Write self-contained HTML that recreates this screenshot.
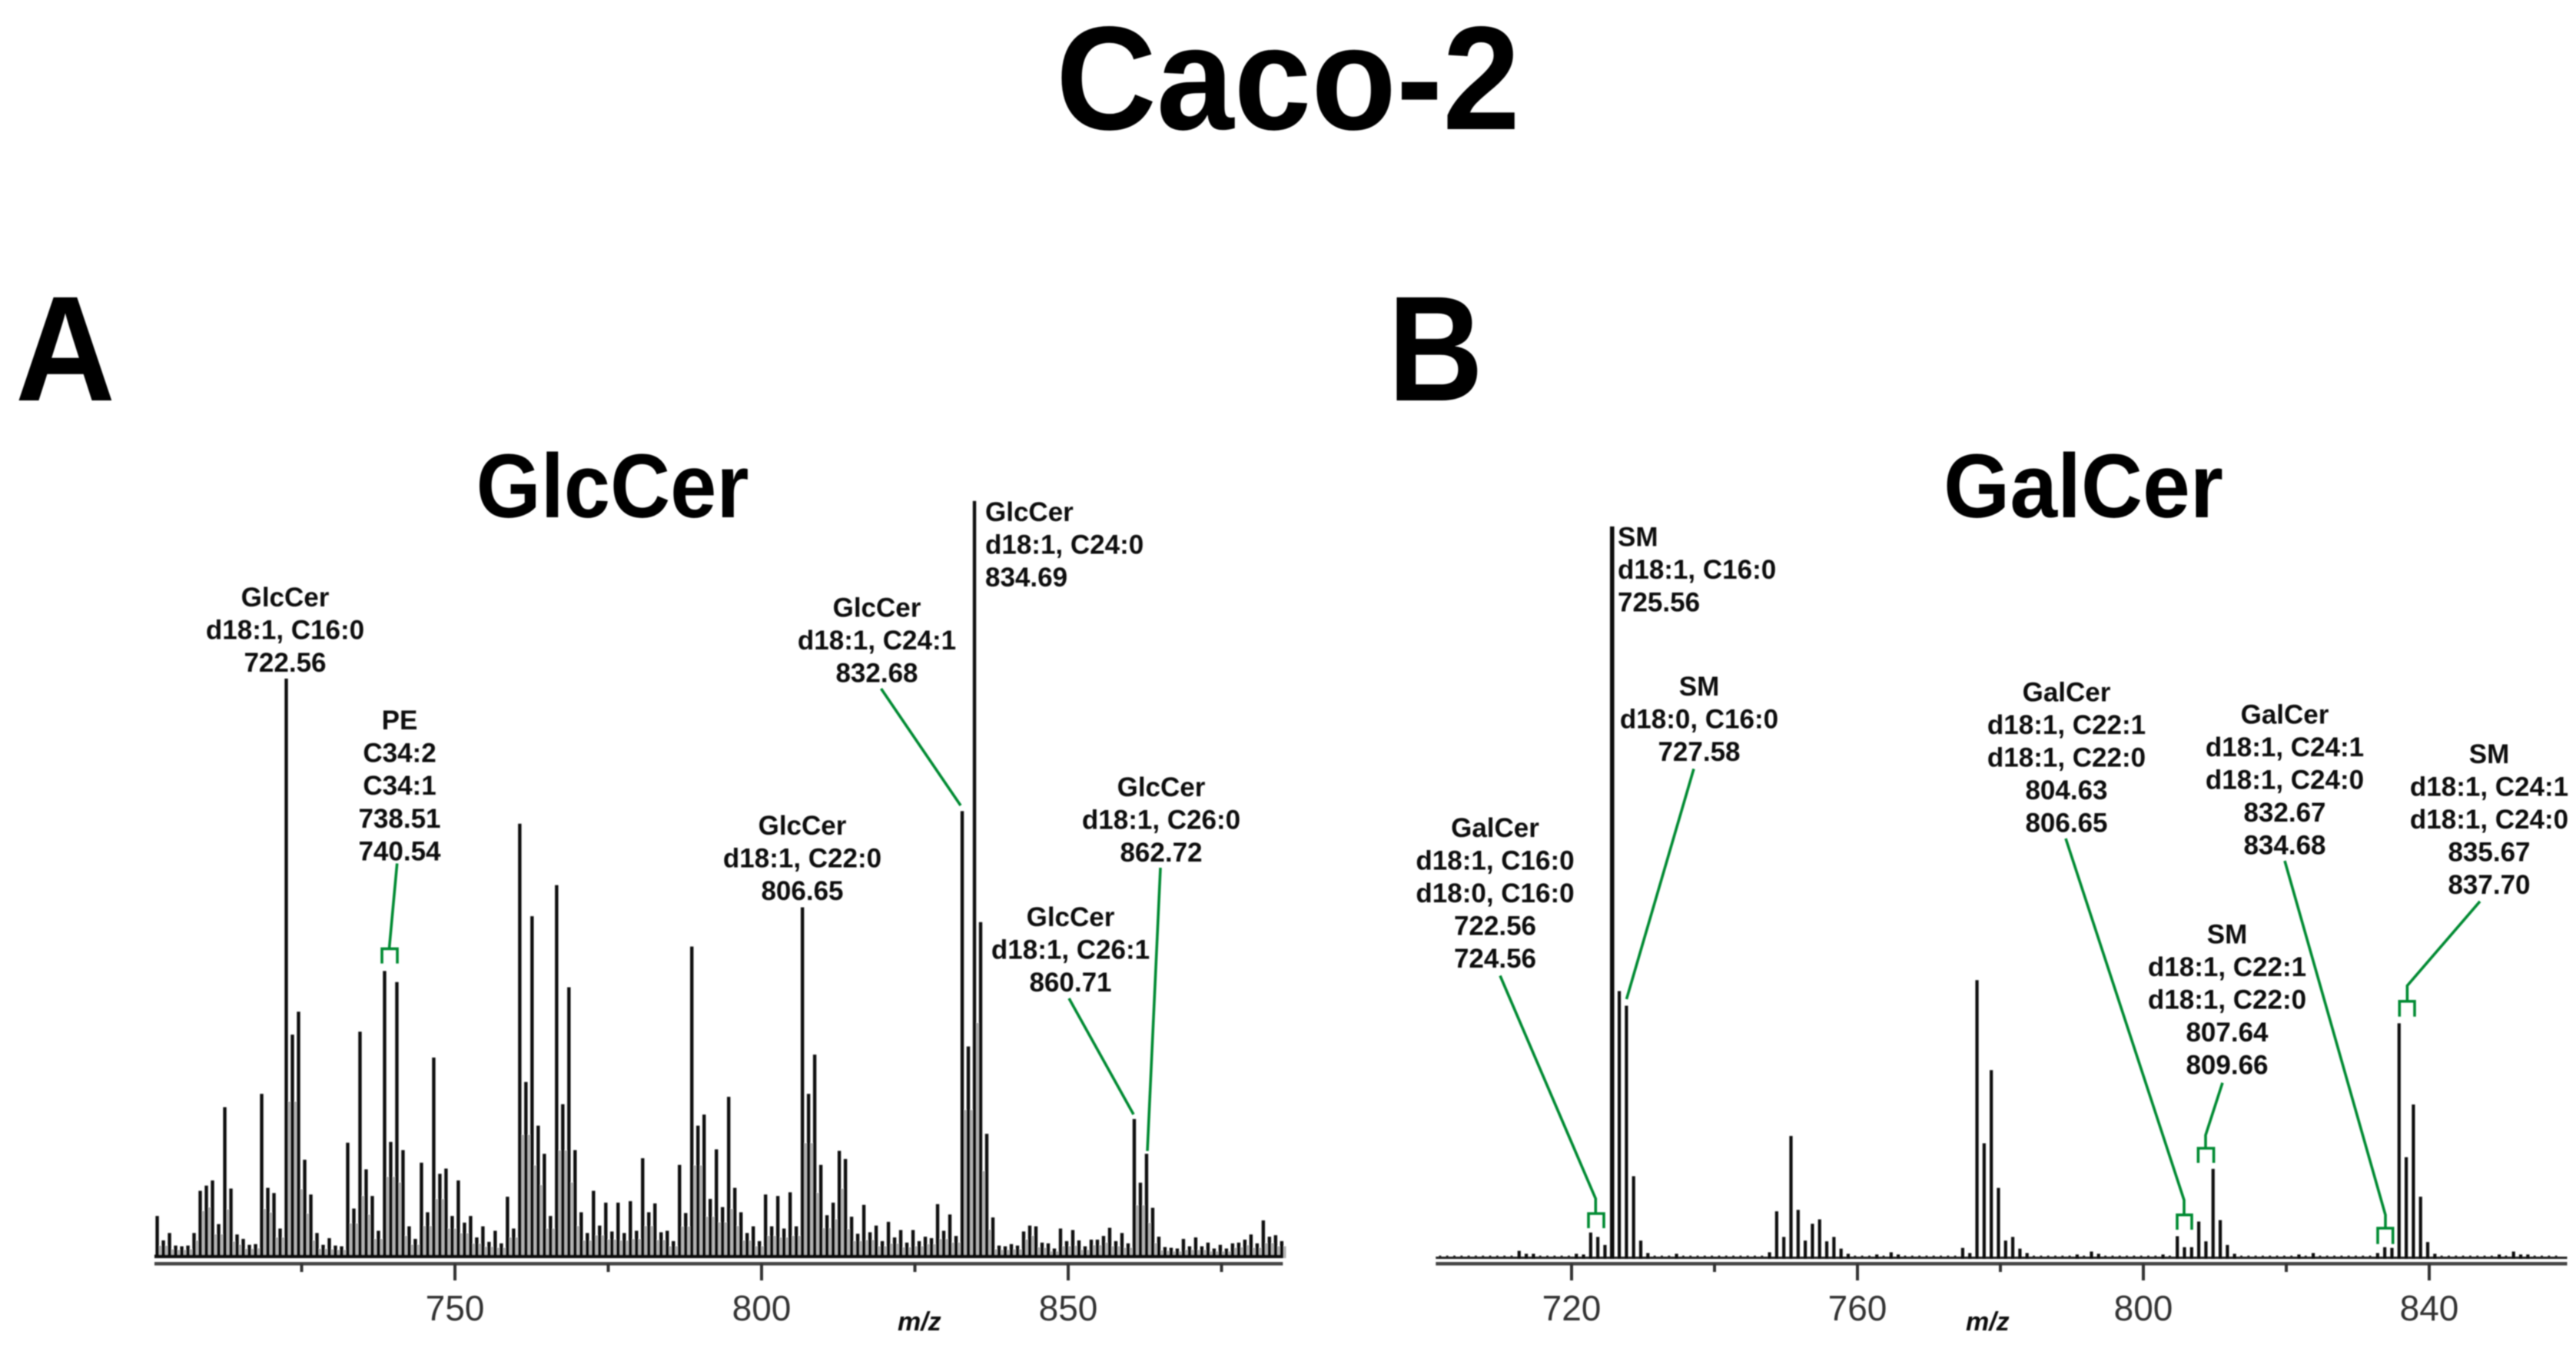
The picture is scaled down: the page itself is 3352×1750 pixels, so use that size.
<!DOCTYPE html>
<html><head><meta charset="utf-8"><title>Caco-2</title>
<style>
html,body{margin:0;padding:0;background:#fff}
svg{display:block}
text{font-family:"Liberation Sans",sans-serif}
.a{font-size:35px;font-weight:bold;fill:#111;text-anchor:middle}
.s{text-anchor:start}
.g{fill:none;stroke:#008a32;stroke-width:3.6}
.t{font-size:46px;fill:#333;text-anchor:middle}
.h{font-weight:bold;fill:#000}
</style></head>
<body>
<svg id="fig" xmlns="http://www.w3.org/2000/svg" width="3352" height="1750" viewBox="0 0 3352 1750">
<defs><filter id="soft" x="0" y="0" width="100%" height="100%"><feGaussianBlur stdDeviation="0.7"/></filter></defs>
<rect width="3352" height="1750" fill="#fff"/>
<g filter="url(#soft)">
<text class="h" x="1676" y="168" font-size="192" text-anchor="middle" textLength="604" lengthAdjust="spacingAndGlyphs">Caco-2</text>
<text class="h" x="20" y="521" font-size="195" textLength="130" lengthAdjust="spacingAndGlyphs">A</text>
<text class="h" x="1806" y="521" font-size="195" textLength="124" lengthAdjust="spacingAndGlyphs">B</text>
<text class="h" x="797" y="673" font-size="118" text-anchor="middle" textLength="355" lengthAdjust="spacingAndGlyphs">GlcCer</text>
<text class="h" x="2711" y="673" font-size="118" text-anchor="middle" textLength="364" lengthAdjust="spacingAndGlyphs">GalCer</text>

<g id="panelA"></g>
<g id="panelB"></g>

<g>
<text class="a"><tspan x="371" y="789">GlcCer</tspan><tspan x="371" y="831.6">d18:1, C16:0</tspan><tspan x="371" y="874.2">722.56</tspan></text>
<text class="a"><tspan x="520" y="949">PE</tspan><tspan x="520" y="991.6">C34:2</tspan><tspan x="520" y="1034.2">C34:1</tspan><tspan x="520" y="1076.8">738.51</tspan><tspan x="520" y="1119.4">740.54</tspan></text>
<text class="a"><tspan x="1141" y="802.5">GlcCer</tspan><tspan x="1141" y="845.1">d18:1, C24:1</tspan><tspan x="1141" y="887.7">832.68</tspan></text>
<text class="a s"><tspan x="1282" y="678">GlcCer</tspan><tspan x="1282" y="720.6">d18:1, C24:0</tspan><tspan x="1282" y="763.2">834.69</tspan></text>
<text class="a"><tspan x="1044" y="1086">GlcCer</tspan><tspan x="1044" y="1128.6">d18:1, C22:0</tspan><tspan x="1044" y="1171.2">806.65</tspan></text>
<text class="a"><tspan x="1511" y="1036">GlcCer</tspan><tspan x="1511" y="1078.6">d18:1, C26:0</tspan><tspan x="1511" y="1121.2">862.72</tspan></text>
<text class="a"><tspan x="1393" y="1205">GlcCer</tspan><tspan x="1393" y="1247.6">d18:1, C26:1</tspan><tspan x="1393" y="1290.2">860.71</tspan></text>
<path class="g" d="M516.7 1123.4L506.5 1234M497 1253.6V1234.4H517V1253.6"/>
<path class="g" d="M1146.5 896L1250 1048"/>
<path class="g" d="M1391 1299L1475 1450"/>
<path class="g" d="M1510 1129L1493 1497.6"/>
</g>

<g>
<text class="a s"><tspan x="2105" y="710.5">SM</tspan><tspan x="2105" y="753">d18:1, C16:0</tspan><tspan x="2105" y="795.5">725.56</tspan></text>
<text class="a"><tspan x="2211" y="905">SM</tspan><tspan x="2211" y="947.5">d18:0, C16:0</tspan><tspan x="2211" y="990">727.58</tspan></text>
<text class="a"><tspan x="1945.5" y="1089">GalCer</tspan><tspan x="1945.5" y="1131.5">d18:1, C16:0</tspan><tspan x="1945.5" y="1174">d18:0, C16:0</tspan><tspan x="1945.5" y="1216.5">722.56</tspan><tspan x="1945.5" y="1259">724.56</tspan></text>
<text class="a"><tspan x="2689" y="912.5">GalCer</tspan><tspan x="2689" y="955">d18:1, C22:1</tspan><tspan x="2689" y="997.5">d18:1, C22:0</tspan><tspan x="2689" y="1040">804.63</tspan><tspan x="2689" y="1082.5">806.65</tspan></text>
<text class="a"><tspan x="2973" y="941.5">GalCer</tspan><tspan x="2973" y="984">d18:1, C24:1</tspan><tspan x="2973" y="1026.5">d18:1, C24:0</tspan><tspan x="2973" y="1069">832.67</tspan><tspan x="2973" y="1111.5">834.68</tspan></text>
<text class="a"><tspan x="3239" y="993">SM</tspan><tspan x="3239" y="1035.5">d18:1, C24:1</tspan><tspan x="3239" y="1078">d18:1, C24:0</tspan><tspan x="3239" y="1120.5">835.67</tspan><tspan x="3239" y="1163">837.70</tspan></text>
<text class="a"><tspan x="2898" y="1227.5">SM</tspan><tspan x="2898" y="1270">d18:1, C22:1</tspan><tspan x="2898" y="1312.5">d18:1, C22:0</tspan><tspan x="2898" y="1355">807.64</tspan><tspan x="2898" y="1397.5">809.66</tspan></text>
<path class="g" d="M1952 1269.5L2076.3 1559.6V1579M2067 1598V1579H2087V1598"/>
<path class="g" d="M2204 1000.4L2116.5 1300"/>
<path class="g" d="M2688 1091L2842 1561.4V1580.7M2833 1600V1580.7H2852V1600"/>
<path class="g" d="M2973 1120L3104 1580.7V1598M3094 1618.6V1598H3113.7V1618.6"/>
<path class="g" d="M2892 1408.8L2870 1477V1494M2860.4 1513V1494H2880.6V1513"/>
<path class="g" d="M3227 1172.8L3132.4 1282.5V1302.8M3122.3 1322.8V1302.8H3142V1322.8"/>
</g>
</g>
</svg>
<script>
// Panel A: GlcCer spectrum, one centroid per nominal m/z
const glcStartMz = 701.45;
const glcStepMz = 1.002;
const glcIntensity = [5.7,2.4,3.4,1.7,1.6,1.7,3.4,9.1,9.8,10.5,4.6,20.4,9.4,3.2,2.6,1.8,1.9,22.2,9.5,8.8,4.0,78.3,30.2,33.3,13.3,8.6,3.4,1.8,2.7,1.7,1.6,15.6,6.7,30.6,12.0,8.4,3.7,38.8,15.7,37.3,14.6,4.3,2.6,12.9,6.2,27.1,11.4,12.1,5.7,10.5,4.8,5.7,2.8,4.3,2.2,3.7,2.0,8.3,4.0,58.7,23.8,46.2,17.9,14.1,5.7,50.4,20.8,36.6,14.6,6.2,3.4,9.1,4.4,7.5,3.6,7.5,3.4,7.7,3.7,13.5,6.2,7.4,3.5,3.7,2.3,12.6,6.1,42.1,17.9,19.4,8.0,14.7,6.9,21.8,9.5,6.2,3.4,4.3,2.3,8.6,4.3,8.4,4.0,8.9,4.3,47.4,22.2,27.5,12.6,5.8,7.5,14.5,13.4,5.6,3.3,7.2,3.5,4.4,2.3,4.9,2.8,3.8,2.1,3.8,2.3,2.9,2.7,7.3,3.7,5.9,3.0,60.4,28.6,102.3,45.4,16.8,5.5,1.7,1.6,1.9,1.7,3.6,4.4,4.3,2.1,2.0,1.3,4.0,2.3,3.8,2.4,1.6,2.5,2.5,3.0,4.1,2.3,3.4,2.0,18.8,10.2,14.1,6.8,2.9,1.5,1.4,1.3,2.6,1.6,2.8,1.6,2.1,1.3,1.8,1.3,2.0,2.1,2.5,3.2,2.0,5.1,2.9,3.1,2.3];
const glcMajorTicks = [750,800,850];
const glcMinorTicks = [725,775,825,875];
const glcAxisMin = 701;
const glcAxisMax = 885;

// Panel B: GalCer spectrum, labelled centroids over a flat noise floor
const galStartMz = 701.6;
const galEndMz = 858;
const galNoise = 0.35;
const galPeakMz = [712,713,714,720,721,722,723,724,725,726,727,728,729,730,734,747,748,749,750,751,752,753,754,755,756,757,758,762,764,765,774,775,776,777,778,779,780,781,782,783,790,792,793,802,804,805,806,807,808,809,810,811,812,821,823,832,833,834,835,836,837,838,839,840,849,851,852,853];
const galIntensity = [1.0,0.6,0.6,0.6,0.5,3.5,2.9,1.8,100,36.5,34.5,11.2,2.4,0.7,0.6,0.8,6.4,2.9,16.7,6.6,2.4,4.7,5.3,2.3,2.9,1.3,0.6,0.5,0.8,0.5,1.4,0.7,38.0,15.7,25.7,9.6,2.4,2.9,1.3,0.7,0.5,0.9,0.6,0.5,3.0,1.5,1.5,5.0,2.3,12.2,5.2,1.8,0.6,0.5,0.7,0.7,1.5,1.4,32.1,13.8,21.0,8.4,2.2,0.6,0.5,0.9,0.5,0.5];
const galMajorTicks = [720,760,800,840];
const galMinorTicks = [740,780,820];
const galAxisMin = 701;
const galAxisMax = 859.3;

const NS = 'http://www.w3.org/2000/svg';
const baseY = 1637;
function rect(parent, x, y, w, h, fill) {
  const r = document.createElementNS(NS, 'rect');
  r.setAttribute('x', x); r.setAttribute('y', y);
  r.setAttribute('width', w); r.setAttribute('height', h);
  r.setAttribute('fill', fill);
  parent.appendChild(r);
  return r;
}
function xA(mz) { return 592 + (mz - 750) * 7.98; }
function yA(v) { return baseY - v * 9.63; }
function xB(mz) { return 2045 + (mz - 720) * 9.3; }
function yB(v) { return baseY - v * 9.52; }

function drawAxis(parent, xf, min, max, major, minor, labelX) {
  const line = rect(parent, xf(min), 1642, xf(max) - xf(min), 4.5, '#444');
  
  
  major.forEach(function (t) {
    const k = rect(parent, xf(t) - 2, 1644, 4, 22, '#333');
    
    
    const lab = document.createElementNS(NS, 'text');
    lab.setAttribute('class', 't');
    lab.setAttribute('x', xf(t));
    lab.setAttribute('y', 1718);
    lab.textContent = String(t);
    
    
    parent.appendChild(lab);
  });
  minor.forEach(function (t) {
    const k = rect(parent, xf(t) - 2, 1644, 4, 11, '#333');
    
    
  });
  const title = document.createElementNS(NS, 'text');
  title.setAttribute('x', labelX);
  title.setAttribute('y', 1731);
  title.setAttribute('font-size', '34');
  title.setAttribute('font-weight', 'bold');
  title.setAttribute('font-style', 'italic');
  title.setAttribute('fill', '#111');
  title.textContent = 'm/z';
  
  
  parent.appendChild(title);
}

// Panel A marks
const pa = document.getElementById('panelA');
glcIntensity.forEach(function (v, i) {
  const mz = glcStartMz + i * glcStepMz;
  const next = i + 1 < glcIntensity.length ? glcIntensity[i + 1] : v;
  const shoulder = Math.min(v, next) * 0.7;
  const iso = rect(pa, xA(mz + 0.5) - 1.7, yA(shoulder), 3.4, baseY - yA(shoulder), '#b4b4b4');
  
  
});
glcIntensity.forEach(function (v, i) {
  const mz = glcStartMz + i * glcStepMz;
  const b = rect(pa, xA(mz) - 2.2, yA(v), 4.4, baseY - yA(v), '#111');
  
  
});
const bandA = rect(pa, xA(glcAxisMin), 1632.5, xA(glcAxisMax) - xA(glcAxisMin), 4.5, '#0d0d0d');


drawAxis(pa, xA, glcAxisMin, glcAxisMax, glcMajorTicks, glcMinorTicks, 1168);

// Panel B marks
const pb = document.getElementById('panelB');
const bandB = rect(pb, xB(galAxisMin), 1635, xB(galAxisMax) - xB(galAxisMin), 3, '#222');


for (let m = galStartMz; m <= galEndMz; m += 1.001) {
  const n = rect(pb, xB(m) - 1.5, yB(galNoise), 3, baseY + 1 - yB(galNoise), '#222');
  
  
}
galPeakMz.forEach(function (m, i) {
  const v = galIntensity[i];
  const w = v === 100 ? 5.6 : 4.2;
  const x = xB(m + 0.65 + (m - 701) * 0.001);
  const b = rect(pb, x - w / 2, yB(v), w, baseY + 1 - yB(v), '#111');
  
  
});
drawAxis(pb, xB, galAxisMin, galAxisMax, galMajorTicks, galMinorTicks, 2558);
</script>
</body></html>
